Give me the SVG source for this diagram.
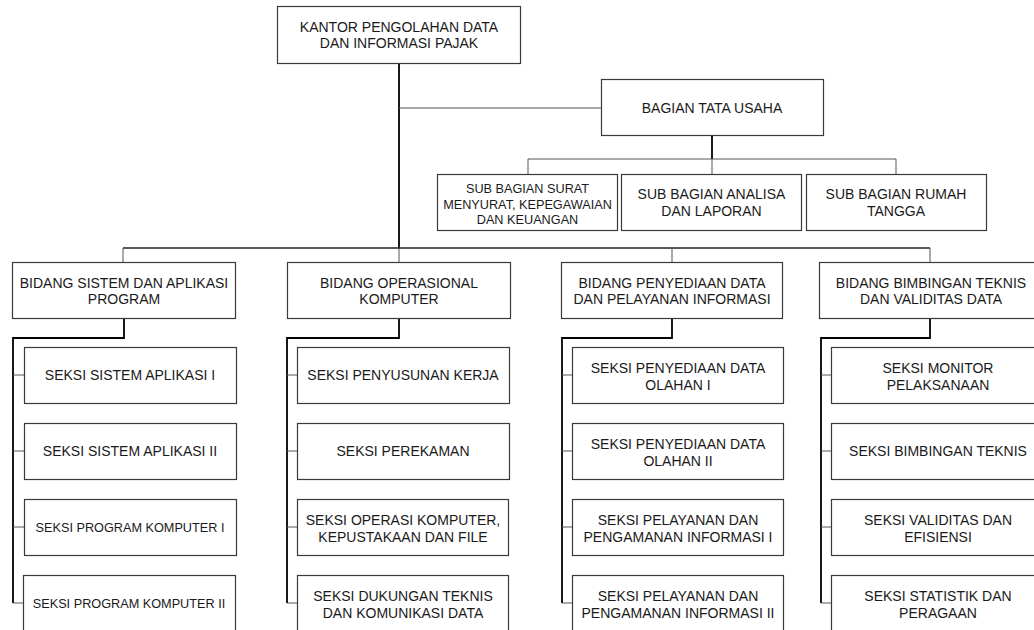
<svg xmlns="http://www.w3.org/2000/svg" width="1034" height="630" viewBox="0 0 1034 630">
<style>
.box{fill:#fff;stroke:#3a3a3a;stroke-width:1.2}
text{font-family:"Liberation Sans",Arial,sans-serif;font-size:14px;fill:#1a1a1a;text-anchor:middle}
.sm{font-size:12.7px}
.strong{fill:none;stroke:#000;stroke-width:1.8}
.mid{fill:none;stroke:#222;stroke-width:1.3}
.thin{fill:none;stroke:#555;stroke-width:1}
</style>
<rect width="1034" height="630" fill="#fff"/>
<g id="connectors">
<path class="strong" d="M399,63 V248"/>
<path class="thin" d="M399,248 V262"/>
<path class="thin" d="M399,108 H601"/>
<path class="strong" d="M712,136 V159"/>
<path class="thin" d="M528,159 H896 M528,159 V174 M712,159 V174 M896,159 V174"/>
<path class="mid" d="M123,248 H930"/>
<path class="thin" d="M123,248 V262 M672,248 V262 M930,248 V262"/>
<path class="strong" d="M124,318 V338 H13 V603"/>
<path class="thin" d="M13,375 H24 M13,451 H24 M13,527 H24 M13,603 H24"/>
<path class="strong" d="M399,318 V338 H287 V603"/>
<path class="thin" d="M287,375 H297 M287,451 H297 M287,527 H297 M287,603 H297"/>
<path class="strong" d="M672,318 V338 H562 V603"/>
<path class="thin" d="M562,375 H572 M562,451 H572 M562,527 H572 M562,603 H572"/>
<path class="strong" d="M930,318 V338 H821 V603"/>
<path class="thin" d="M821,375 H831 M821,451 H831 M821,527 H831 M821,603 H831"/>
</g>
<g id="n-kantor"><rect class="box" x="277.5" y="6.5" width="243" height="57"/><text x="399" y="31.5">KANTOR PENGOLAHAN DATA</text><text x="399" y="47.5">DAN INFORMASI PAJAK</text></g>
<g id="n-bagian"><rect class="box" x="601.5" y="79.5" width="222" height="56"/><text x="712" y="112.5">BAGIAN TATA USAHA</text></g>
<g id="n-surat"><rect class="box" x="437.5" y="174.5" width="180" height="56"/><text class="sm" x="527.5" y="192.8">SUB BAGIAN SURAT</text><text class="sm" x="527.5" y="208.5">MENYURAT, KEPEGAWAIAN</text><text class="sm" x="527.5" y="223.8">DAN KEUANGAN</text></g>
<g id="n-analisa"><rect class="box" x="621.5" y="174.5" width="180" height="56"/><text x="711.5" y="199.3">SUB BAGIAN ANALISA</text><text x="711.5" y="215.7">DAN LAPORAN</text></g>
<g id="n-rumah"><rect class="box" x="806.5" y="174.5" width="180" height="56"/><text x="896" y="199.3">SUB BAGIAN RUMAH</text><text x="896" y="215.7">TANGGA</text></g>
<g id="n-bidang1"><rect class="box" x="12.5" y="262.5" width="223" height="56"/><text x="124" y="287.7">BIDANG SISTEM DAN APLIKASI</text><text x="124" y="304.3">PROGRAM</text></g>
<g id="n-bidang2"><rect class="box" x="287.5" y="262.5" width="223" height="56"/><text x="399" y="287.7">BIDANG OPERASIONAL</text><text x="399" y="304.3">KOMPUTER</text></g>
<g id="n-bidang3"><rect class="box" x="561.5" y="262.5" width="221" height="56"/><text x="672" y="287.7">BIDANG PENYEDIAAN DATA</text><text x="672" y="304.3">DAN PELAYANAN INFORMASI</text></g>
<g id="n-bidang4"><rect class="box" x="819.5" y="262.5" width="222" height="56"/><text x="931" y="287.7">BIDANG BIMBINGAN TEKNIS</text><text x="931" y="304.3">DAN VALIDITAS DATA</text></g>
<g id="n-s11"><rect class="box" x="24.5" y="347.5" width="212" height="56"/><text x="130" y="380">SEKSI SISTEM APLIKASI I</text></g>
<g id="n-s12"><rect class="box" x="24.5" y="423.5" width="212" height="56"/><text x="130" y="456">SEKSI SISTEM APLIKASI II</text></g>
<g id="n-s13"><rect class="box" x="24.5" y="499.5" width="212" height="56"/><text class="sm" x="130" y="531.5">SEKSI PROGRAM KOMPUTER I</text></g>
<g id="n-s14"><rect class="box" x="23.5" y="575.5" width="212" height="56"/><text class="sm" x="129" y="607.5">SEKSI PROGRAM KOMPUTER II</text></g>
<g id="n-s21"><rect class="box" x="297.5" y="347.5" width="212" height="56"/><text x="403" y="380">SEKSI PENYUSUNAN KERJA</text></g>
<g id="n-s22"><rect class="box" x="297.5" y="423.5" width="212" height="56"/><text x="403" y="456">SEKSI PEREKAMAN</text></g>
<g id="n-s23"><rect class="box" x="297.5" y="499.5" width="211" height="56"/><text x="403" y="525">SEKSI OPERASI KOMPUTER,</text><text x="403" y="541.5">KEPUSTAKAAN DAN FILE</text></g>
<g id="n-s24"><rect class="box" x="297.5" y="575.5" width="211" height="56"/><text x="403" y="601">SEKSI DUKUNGAN TEKNIS</text><text x="403" y="617.5">DAN KOMUNIKASI DATA</text></g>
<g id="n-s31"><rect class="box" x="572.5" y="347.5" width="211" height="56"/><text x="678" y="373">SEKSI PENYEDIAAN DATA</text><text x="678" y="389.5">OLAHAN I</text></g>
<g id="n-s32"><rect class="box" x="572.5" y="423.5" width="211" height="56"/><text x="678" y="449">SEKSI PENYEDIAAN DATA</text><text x="678" y="465.5">OLAHAN II</text></g>
<g id="n-s33"><rect class="box" x="572.5" y="499.5" width="211" height="56"/><text x="678" y="525">SEKSI PELAYANAN DAN</text><text x="678" y="541.5">PENGAMANAN INFORMASI I</text></g>
<g id="n-s34"><rect class="box" x="572.5" y="575.5" width="211" height="56"/><text x="678" y="601">SEKSI PELAYANAN DAN</text><text x="678" y="617.5">PENGAMANAN INFORMASI II</text></g>
<g id="n-s41"><rect class="box" x="831.5" y="347.5" width="212" height="56"/><text x="938" y="373">SEKSI MONITOR</text><text x="938" y="389.5">PELAKSANAAN</text></g>
<g id="n-s42"><rect class="box" x="831.5" y="423.5" width="212" height="56"/><text x="938" y="456">SEKSI BIMBINGAN TEKNIS</text></g>
<g id="n-s43"><rect class="box" x="831.5" y="499.5" width="212" height="56"/><text x="938" y="525">SEKSI VALIDITAS DAN</text><text x="938" y="541.5">EFISIENSI</text></g>
<g id="n-s44"><rect class="box" x="831.5" y="575.5" width="212" height="56"/><text x="938" y="601">SEKSI STATISTIK DAN</text><text x="938" y="617.5">PERAGAAN</text></g>
</svg>
